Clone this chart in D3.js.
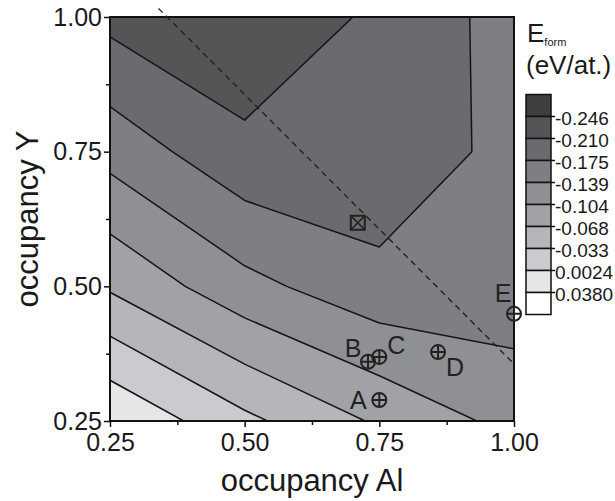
<!DOCTYPE html>
<html>
<head>
<meta charset="utf-8">
<script src="https://cdnjs.cloudflare.com/ajax/libs/d3/7.8.5/d3.min.js"></script>
<style>
body { margin: 0; background: #fff; }
svg { display: block; font-family: "Liberation Sans", Arial, sans-serif; }
</style>
</head>
<body>
<div id="chart"></div>
<script>
// data
var gridX = [0.25, 0.50, 0.75, 1.00];
var gridY = [0.25, 0.50, 0.75, 1.00];
// formation energy at grid nodes, row by row starting at occupancy Y = 0.25
var eForm = [
   0.0353, -0.0249, -0.0739, -0.1159,
  -0.0735, -0.1286, -0.1644, -0.1605,
  -0.1525, -0.2020, -0.2020, -0.1633,
  -0.2210, -0.2400, -0.2038, -0.1615
];
var levels = [-0.2464, -0.2109, -0.1754, -0.1398, -0.1043, -0.0687, -0.0332, 0.0024, 0.0380];
var levelLabels = ["-0.246", "-0.210", "-0.175", "-0.139", "-0.104", "-0.068", "-0.033", "0.0024", "0.0380"];
var tickValues = [0.25, 0.50, 0.75, 1.00];
var minorTicks = [0.375, 0.625, 0.875];

var pointNames = ["A", "B", "C", "D", "E"];
var pointX = [0.75, 0.729, 0.75, 0.859, 1.00];
var pointY = [0.289, 0.360, 0.369, 0.378, 0.449];
var squareX = [0.71];
var squareY = [0.618];
var dashX = [0.34, 1.00];
var dashY = [1.016, 0.356];

// styling
var greys = ["#3e3e40", "#545557", "#6a6b6e", "#7e7f82", "#8f9093", "#a1a2a5", "#b5b6b9", "#cacbce", "#e5e6e8", "#ffffff"];
var labelOffset = {A: [-21, 0], B: [-15, -14], C: [17, -12], D: [17, 15], E: [-11, -21]};

var svgWidth = 615;
var svgHeight = 501;
var margin = {top: 17, left: 110};
var width = 404;
var height = 404;

var svg = d3.select("#chart")
  .append("svg")
  .attr("width", svgWidth)
  .attr("height", svgHeight);

var chartGroup = svg.append("g")
  .attr("transform", `translate(${margin.left}, ${margin.top})`);

var x = d3.scaleLinear().domain([0.25, 1.0]).range([0, width]);
var y = d3.scaleLinear().domain([0.25, 1.0]).range([height, 0]);

// contour grid coords -> data coords (grid samples sit at cell centres)
var gx = d3.scaleLinear().domain([0.5, gridX.length - 0.5]).range([gridX[0], gridX[gridX.length - 1]]);
var gy = d3.scaleLinear().domain([0.5, gridY.length - 0.5]).range([gridY[0], gridY[gridY.length - 1]]);
var proj = d3.geoTransform({
  point: function(px, py) { this.stream.point(x(gx(px)), y(gy(py))); }
});
var path = d3.geoPath(proj);

svg.append("defs").append("clipPath").attr("id", "plotClip")
  .append("rect").attr("width", width).attr("height", height);

var contourGroup = chartGroup.append("g").attr("clip-path", "url(#plotClip)");
contourGroup.append("rect")
  .attr("width", width).attr("height", height)
  .attr("fill", greys[0]);

var contours = d3.contours()
  .size([gridX.length, gridY.length])
  .thresholds(levels)(eForm);

contourGroup.selectAll("path")
  .data(contours)
  .enter()
  .append("path")
  .attr("d", path)
  .attr("fill", (d, i) => greys[i + 1])
  .attr("stroke", "#151515")
  .attr("stroke-width", 1.5)
  .attr("stroke-linejoin", "round");

// axes
var bottomAxis = d3.axisBottom(x).tickValues(tickValues).tickFormat(d3.format(".2f")).tickSize(6).tickSizeOuter(0);
var leftAxis = d3.axisLeft(y).tickValues(tickValues).tickFormat(d3.format(".2f")).tickSize(6).tickSizeOuter(0);

var xAxisG = chartGroup.append("g").attr("transform", `translate(0, ${height})`).call(bottomAxis);
var yAxisG = chartGroup.append("g").call(leftAxis);
chartGroup.append("g").attr("transform", `translate(0, ${height})`)
  .call(d3.axisBottom(x).tickValues(minorTicks).tickFormat("").tickSize(4).tickSizeOuter(0))
  .select(".domain").remove();
chartGroup.append("g")
  .call(d3.axisLeft(y).tickValues(minorTicks).tickFormat("").tickSize(4).tickSizeOuter(0))
  .select(".domain").remove();

chartGroup.selectAll(".tick line").attr("stroke", "#111").attr("stroke-width", 1.5);
xAxisG.selectAll(".tick text").attr("font-size", 25).attr("fill", "#1a1a1a").attr("dy", "0.9em").attr("y", 7);
yAxisG.selectAll(".tick text").attr("font-size", 25).attr("fill", "#1a1a1a").attr("x", -8);

chartGroup.append("rect")
  .attr("width", width).attr("height", height)
  .attr("fill", "none").attr("stroke", "#111").attr("stroke-width", 2);

// dashed guide
chartGroup.append("path")
  .datum(d3.zip(dashX, dashY))
  .attr("d", d3.line().x(d => x(d[0])).y(d => y(d[1])))
  .attr("fill", "none")
  .attr("stroke", "#222")
  .attr("stroke-width", 1.4)
  .attr("stroke-dasharray", "6,4.5");

// markers
var pts = pointNames.map((n, i) => ({name: n, x: pointX[i], y: pointY[i]}));
var mk = chartGroup.selectAll(".pt").data(pts).enter().append("g")
  .attr("class", "pt")
  .attr("transform", d => `translate(${x(d.x)}, ${y(d.y)})`);
mk.append("circle").attr("r", 7).attr("fill", "none").attr("stroke", "#222").attr("stroke-width", 2);
mk.append("path").attr("d", "M-7,0H7M0,-7V7").attr("stroke", "#222").attr("stroke-width", 2);
mk.append("text")
  .attr("x", d => labelOffset[d.name][0])
  .attr("y", d => labelOffset[d.name][1])
  .attr("text-anchor", "middle")
  .attr("dominant-baseline", "central")
  .attr("font-size", 25)
  .attr("fill", "#222")
  .text(d => d.name);

var sq = chartGroup.selectAll(".sq").data(d3.zip(squareX, squareY)).enter().append("g")
  .attr("transform", d => `translate(${x(d[0])}, ${y(d[1])})`);
sq.append("rect").attr("x", -7).attr("y", -7).attr("width", 14).attr("height", 14)
  .attr("fill", "none").attr("stroke", "#222").attr("stroke-width", 2);
sq.append("path").attr("d", "M-7,-7L7,7M7,-7L-7,7").attr("stroke", "#222").attr("stroke-width", 1.6);

// axis titles
svg.append("text")
  .attr("x", margin.left + width / 2).attr("y", 491)
  .attr("text-anchor", "middle").attr("font-size", 31).attr("fill", "#1a1a1a")
  .text("occupancy Al");
svg.append("text")
  .attr("transform", `translate(38, ${margin.top + height / 2}) rotate(-90)`)
  .attr("text-anchor", "middle").attr("font-size", 31).attr("fill", "#1a1a1a")
  .text("occupancy Y");

// legend
var legend = svg.append("g");
var t = legend.append("text").attr("x", 527).attr("y", 42).attr("font-size", 26).attr("fill", "#1a1a1a");
t.append("tspan").text("E");
t.append("tspan").attr("font-size", 11).attr("dy", 4).text("form");
legend.append("text").attr("x", 526).attr("y", 74).attr("font-size", 26).attr("fill", "#1a1a1a").text("(eV/at.)");

var boxTop = 94.5, boxH = 22, boxX = 526, boxW = 25;
legend.selectAll(".box").data(greys).enter().append("rect")
  .attr("x", boxX)
  .attr("y", (d, i) => boxTop + i * boxH)
  .attr("width", boxW).attr("height", boxH)
  .attr("fill", d => d)
  .attr("stroke", "#111").attr("stroke-width", 1.5);
legend.selectAll(".ltick").data(levelLabels).enter().append("line")
  .attr("x1", boxX + boxW).attr("x2", boxX + boxW + 4)
  .attr("y1", (d, i) => boxTop + (i + 1) * boxH)
  .attr("y2", (d, i) => boxTop + (i + 1) * boxH)
  .attr("stroke", "#111").attr("stroke-width", 1.5);
legend.selectAll(".llab").data(levelLabels).enter().append("text")
  .attr("x", 555)
  .attr("y", (d, i) => boxTop + (i + 1) * boxH + 2)
  .attr("dominant-baseline", "central")
  .attr("font-size", 19).attr("fill", "#1a1a1a")
  .text(d => d);
</script>
</body>
</html>
